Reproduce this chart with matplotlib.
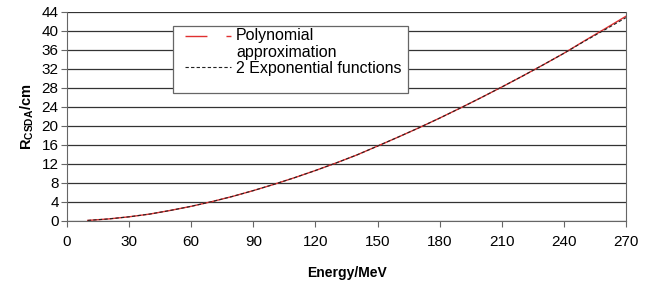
import matplotlib
matplotlib.use("Agg")
import matplotlib.pyplot as plt
from matplotlib.patches import Rectangle
import numpy as np

plt.rcParams['font.family'] = ['Liberation Sans', 'DejaVu Sans']
plt.rcParams['mathtext.default'] = 'regular'

energy = [10, 20, 30, 40, 50, 60, 70, 80, 90, 100, 110, 120, 130, 140, 150,
          160, 170, 180, 190, 200, 210, 220, 230, 240, 250, 260, 270]
range_poly = [0.12, 0.43, 0.88, 1.46, 2.23, 3.09, 4.08, 5.18, 6.40, 7.72, 9.13,
              10.63, 12.22, 13.90, 15.77, 17.67, 19.62, 21.66, 23.78, 25.96,
              28.20, 30.50, 32.87, 35.30, 37.94, 40.50, 43.10]
range_exp = [0.12, 0.43, 0.88, 1.46, 2.23, 3.09, 4.08, 5.18, 6.40, 7.72, 9.13,
             10.63, 12.22, 13.90, 15.77, 17.67, 19.62, 21.66, 23.78, 25.96,
             28.20, 30.50, 32.87, 35.30, 37.85, 40.30, 42.80]
xticks = list(range(0, 271, 30))
yticks = list(range(0, 45, 4))

fig = plt.figure(figsize=(6.47, 2.85), dpi=100)
ax = fig.add_axes([0.1036, 0.2246, 0.8639, 0.7334])

ax.plot(energy, range_poly, color='#e03030', lw=1.0, label='Polynomial\napproximation')
ax.plot(energy, range_exp, color='#222222', lw=0.8, ls=(0, (3, 2)), label='2 Exponential functions')

ax.set_xlim(0, 270)
ax.set_ylim(0, 44)
ax.set_xticks(xticks)
ax.set_yticks(yticks)
ax.yaxis.grid(True, color='#333333', lw=0.9)
ax.set_axisbelow(True)
ax.spines['top'].set_visible(False)
for s in ['left', 'right', 'bottom']:
    ax.spines[s].set_color('#666666')
ax.tick_params(axis='both', direction='out', length=4, color='#666666', labelsize=11)
ax.tick_params(axis='x', pad=6)
ax.tick_params(axis='y', pad=2)

ax.set_xlabel('Energy/MeV', fontweight='bold', fontsize=10, labelpad=12)
ax.set_ylabel('R$_{CSDA}$/cm', fontweight='bold', fontsize=10.5, labelpad=4)

# legend frame box
box = Rectangle((0.1896, 0.612), 0.4206, 0.321, transform=ax.transAxes,
                facecolor='white', edgecolor='#666666', lw=0.9, zorder=4)
ax.add_patch(box)

leg = ax.legend(loc='upper left', bbox_to_anchor=(0.211, 0.925), fontsize=11.5,
                frameon=False, handlelength=2.9, handletextpad=0.3,
                borderpad=0, borderaxespad=0, labelspacing=0.05)
leg.set_zorder(5)
red_handle = leg.get_lines()[0]
red_handle.set_linestyle((0, (15.8, 13.7, 3.6, 50)))
red_handle.set_linewidth(1.0)
red_handle.set_ydata(np.asarray(red_handle.get_ydata()) + 6.0)

fig.savefig('out.png', dpi=100, facecolor='white')
